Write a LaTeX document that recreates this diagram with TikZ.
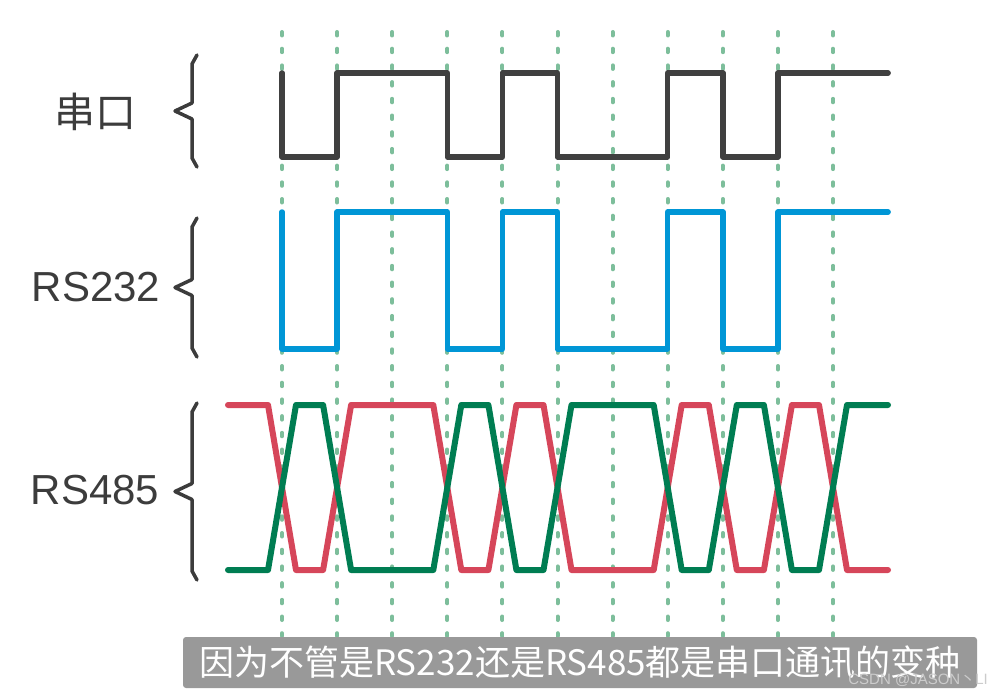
\documentclass[tikz,border=0pt]{standalone}
\usepackage{fontspec}
\setmainfont{Liberation Sans}
\newfontfamily\cjk{Noto Sans CJK SC}
\usetikzlibrary{positioning}

\definecolor{SerieGris}{RGB}{64,64,64}
\definecolor{RSAzul}{RGB}{0,150,214}
\definecolor{RSRojo}{RGB}{214,70,90}
\definecolor{RSVerde}{RGB}{0,125,82}
\definecolor{GuiaVerde}{RGB}{125,190,155}
\definecolor{TextoGris}{RGB}{60,60,60}
\definecolor{CajaGris}{RGB}{153,153,153}

\tikzset{
	senal/.style={line width=5.5pt, line cap=round, line join=round},
	guia/.style={GuiaVerde, line width=4pt, line cap=round, dash pattern=on 3.5pt off 13.2pt},
	llave/.style={TextoGris, line width=3.5pt, line cap=round, line join=round},
	etiqueta/.style={TextoGris, font=\fontsize{42}{42}\selectfont},
}

\def\bitsSerie{0,1,1,0,1,0,0,1,0,1,1}
\def\bitsRojo{0,1,1,0,1,0,0,1,0,1,0}

\begin{document}
\begin{tikzpicture}[x=1pt, y=-1pt]
	\useasboundingbox (0,0) rectangle (991,693);
	% líneas guía punteadas, una por bit (ancho de bit 55.1)
	\foreach \i in {0,...,10}
		\draw[guia] ({282+55.1*\i},32) -- ({282+55.1*\i},636);
	% llaves de la izquierda
	\foreach \ya/\yb in {55/167, 218/357, 403/580}
		\draw[llave] (197,\ya) -- (192,{\ya+9}) -- (192,{(\ya+\yb)/2-8}) -- (175,{(\ya+\yb)/2})
			-- (192,{(\ya+\yb)/2+8}) -- (192,{\yb-9}) -- (197,\yb);
	% etiquetas
	\node[etiqueta, font=\cjk\fontsize{41}{41}\selectfont] (serie) at (95,112) {串口};
	\node[etiqueta] (rs232) at (96,287) {RS232};
	\node[etiqueta] (rs485) at (95,490) {RS485};
	% serie y RS232: mismos bits, otros niveles
	\draw[senal, SerieGris] (282,73) \foreach \bit [count=\i from 0] in \bitsSerie {
		-- ({282+55.1*\i},{(\bit==1)?73:157}) -- ({282+55.1*(\i+1)},{(\bit==1)?73:157}) };
	\draw[senal, RSAzul] (282,212) \foreach \bit [count=\i from 0] in \bitsSerie {
		-- ({282+55.1*\i},{(\bit==1)?212:349}) -- ({282+55.1*(\i+1)},{(\bit==1)?212:349}) };
	% RS485: par diferencial con flancos inclinados
	\draw[senal, RSRojo, line width=6pt] (228,405)
		\foreach \bit [count=\i from 0, remember=\bit as \prev (initially 1)] in \bitsRojo {
		-- ({282+55.1*\i-14},{(\prev==1)?405:570}) -- ({282+55.1*\i+14},{(\bit==1)?405:570}) } -- (888,570);
	\draw[senal, RSVerde, line width=6pt] (228,570)
		\foreach \bit [count=\i from 0, remember=\bit as \prev (initially 1)] in \bitsRojo {
		-- ({282+55.1*\i-14},{(\prev==1)?570:405}) -- ({282+55.1*\i+14},{(\bit==1)?570:405}) } -- (888,405);
	% subtítulo
	\node[fill=CajaGris, rounded corners=3pt, minimum width=794pt, minimum height=51pt, inner sep=0pt,
		text=white, font=\cjk\fontsize{35}{35}\selectfont] (pie) at (580,662.5)
		{因为不管是RS232还是RS485都是串口通讯的变种};
	\node[text=white!80!black, font=\fontsize{15}{15}\selectfont, anchor=east, inner sep=0pt] (marca) at (988,680)
		{CSDN @JASON{\cjk 丶}LI};
\end{tikzpicture}
\end{document}
